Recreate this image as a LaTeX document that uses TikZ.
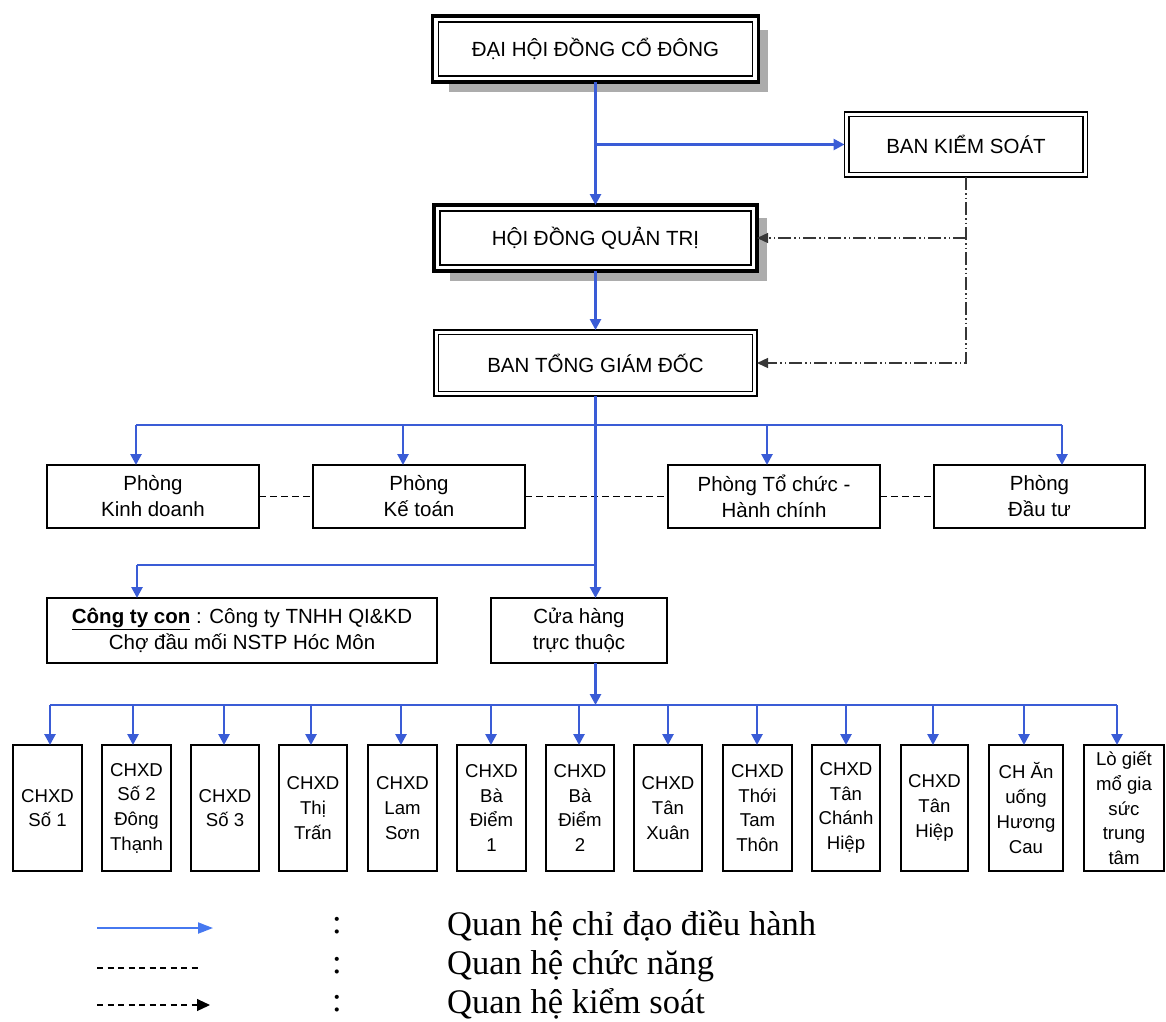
\documentclass[tikz,border=0pt]{standalone}
\usepackage{fontspec}
\setmainfont{Liberation Sans}
\newfontfamily\legendfont{Liberation Serif}
\usetikzlibrary{arrows.meta,calc}
\definecolor{cblue}{RGB}{58,92,214}
\definecolor{lblue}{RGB}{70,120,240}
\definecolor{shadowgray}{RGB}{172,172,172}
\definecolor{ctrl}{RGB}{55,55,55}
\begin{document}
\begin{tikzpicture}[x=1pt,y=-1pt,
  box/.style={draw=black, line width=1.4pt, fill=white, inner sep=0pt, outer sep=0pt, align=center,
    font=\fontsize{20.5}{26}\selectfont},
  bigbox/.style={box, line width=3.6pt},
  dblbox/.style={box, line width=1.3pt},
  small/.style={box, font=\fontsize{18.6}{24.7}\selectfont},
  innerline/.style={draw=black, line width=1.3pt},
  flow/.style={draw=cblue, line width=2.6pt, -{Triangle[length=11pt,width=11pt]}},
  flowline/.style={draw=cblue, line width=2.6pt},
  func/.style={draw=black, line width=1.1pt, dash pattern=on 7pt off 4pt},
  ctl/.style={draw=ctrl, line width=1.4pt, dash pattern=on 13pt off 3pt on 1.5pt off 3pt on 1.5pt off 3pt,
    -{Triangle[length=11pt,width=10pt]}},
  legtext/.style={anchor=west, inner sep=0pt, font=\legendfont\fontsize{34.5}{40}\selectfont},
]
\useasboundingbox (0,0) rectangle (1166,1021);

% ---- top level boxes with shadows
\fill[shadowgray] (449,30) rectangle (768,92);
\node[bigbox, minimum width=326pt, minimum height=66pt] (dh) at (595.5,49) {ĐẠI HỘI ĐỒNG CỔ ĐÔNG};
\draw[innerline] ([shift={(6,6)}]dh.north west) rectangle ([shift={(-6,-6)}]dh.south east);

\node[dblbox, minimum width=243pt, minimum height=65pt] (bks) at (966,144.5) {BAN KIỂM SOÁT};
\draw[innerline] ([shift={(4.5,4.5)}]bks.north west) rectangle ([shift={(-4.5,-4.5)}]bks.south east);

\fill[shadowgray] (450,218) rectangle (767,281);
\node[bigbox, minimum width=323pt, minimum height=66pt] (hd) at (595.5,238) {HỘI ĐỒNG QUẢN TRỊ};
\draw[innerline] ([shift={(6,6)}]hd.north west) rectangle ([shift={(-6,-6)}]hd.south east);

\node[dblbox, minimum width=323pt, minimum height=66pt] (bt) at (595.5,363) {BAN TỔNG GIÁM ĐỐC};
\draw[innerline] ([shift={(4.5,4.5)}]bt.north west) rectangle ([shift={(-4.5,-4.5)}]bt.south east);

% ---- departments
\node[box, minimum width=212pt, minimum height=63pt] (pkd) at (153,496.5) {Phòng\\Kinh doanh};
\node[box, minimum width=212pt, minimum height=63pt] (pkt) at (419,496.5) {Phòng\\Kế toán};
\node[box, minimum width=212pt, minimum height=63pt] (ptc) at (774,496.5) {Phòng Tổ chức -\\Hành chính};
\node[box, minimum width=211pt, minimum height=63pt] (pdt) at (1039.5,496.5) {Phòng\\Đầu tư};

\node[box, minimum width=390pt, minimum height=65pt] (cty) at (242,630.5)
  {\underline{\textbf{Công ty con}} : Công ty TNHH QI\&KD\\Chợ đầu mối NSTP Hóc Môn};
\node[box, minimum width=176pt, minimum height=65pt] (ch) at (579,630.5) {Cửa hàng\\trực thuộc};

% ---- stores
\foreach \n/\l/\r/\t in {
  s1/13/82/{CHXD\\Số 1},
  s2/102/171/{CHXD\\Số 2\\Đông\\Thạnh},
  s3/191/259/{CHXD\\Số 3},
  s4/279/347/{CHXD\\Thị\\Trấn},
  s5/368/437/{CHXD\\Lam\\Sơn},
  s6/457/526/{CHXD\\Bà\\Điểm\\1},
  s7/546/614/{CHXD\\Bà\\Điểm\\2},
  s8/634/702/{CHXD\\Tân\\Xuân},
  s9/723/792/{CHXD\\Thới\\Tam\\Thôn},
  s10/812/880/{CHXD\\Tân\\Chánh\\Hiệp},
  s11/901/968/{CHXD\\Tân\\Hiệp},
  s12/989/1063/{CH Ăn\\uống\\Hương\\Cau},
  s13/1084/1164/{Lò giết\\mổ gia\\sức\\trung\\tâm}}
{
  \pgfmathsetmacro{\cx}{(\l+\r)/2}
  \pgfmathsetmacro{\w}{\r-\l}
  \node[small, minimum width=\w pt, minimum height=126pt] (\n) at (\cx,808) {\t};
}

% ---- functional relations (dashed)
\draw[func] (pkd.east) -- (pkt.west);
\draw[func] (pkt.east) -- (ptc.west);
\draw[func] (ptc.east) -- (pdt.west);

% ---- control relations
\draw[ctl] (bks.south) |- (bt.east);
\draw[ctl] (bks.south |- hd.east) -- (hd.east);

% ---- direction relations (blue)
\draw[flow] (dh.south) -- (hd.north);
\draw[flow] (dh.south |- bks.west) -- (bks.west);
\draw[flow] (hd.south) -- (bt.north);

\coordinate (b1) at (136,425);
\coordinate (b2) at (403,425);
\coordinate (b3) at (767,425);
\coordinate (b4) at (1062,425);
\draw[flowline] (b1) -- (b4);
\draw[flow] (b1) -- (b1 |- pkd.north);
\draw[flow] (b2) -- (b2 |- pkt.north);
\draw[flow] (b3) -- (b3 |- ptc.north);
\draw[flow] (b4) -- (b4 |- pdt.north);

\draw[flow] (bt.south) -- (bt.south |- ch.north);
\coordinate (j2) at (595.5,565);
\coordinate (b5) at (137,565);
\draw[flowline] (j2) -- (b5);
\draw[flow] (b5) -- (b5 |- cty.north);

\coordinate (j3) at (595.5,705);
\draw[flow] (bt.south |- ch.south) -- (j3);
\coordinate (bl) at (50,705);
\coordinate (br) at (1117,705);
\draw[flowline] (bl) -- (br);
\foreach \n/\x in {s1/50,s2/133,s3/224,s4/311,s5/401,s6/491,s7/579,s8/668,s9/757,s10/846,s11/933,s12/1024,s13/1117}
  \draw[flow] (\x,705) -- (\x,745);

% ---- legend
\coordinate (la1) at (97,928);  \coordinate (la2) at (213,928);
\coordinate (lb1) at (97,968);  \coordinate (lb2) at (201,968);
\coordinate (lc1) at (97,1005); \coordinate (lc2) at (210,1005);
\draw[draw=lblue, line width=2pt, -{Triangle[length=15pt,width=11pt]}] (la1) -- (la2);
\draw[draw=black, line width=1.1pt, dash pattern=on 6pt off 4.5pt] (lb1) -- (lb2);
\draw[draw=black, line width=1.1pt, dash pattern=on 6pt off 4.5pt, -{Triangle[length=13pt,width=12pt]}] (lc1) -- (lc2);
\node[legtext] (c1) at (332,926) {:};
\node[legtext] (c2) at (332,966) {:};
\node[legtext] (c3) at (332,1004) {:};
\node[legtext] (t1) at (447,926) {Quan hệ chỉ đạo điều hành};
\node[legtext] (t2) at (447,966) {Quan hệ chức năng};
\node[legtext] (t3) at (447,1004) {Quan hệ kiểm soát};
\end{tikzpicture}
\end{document}
